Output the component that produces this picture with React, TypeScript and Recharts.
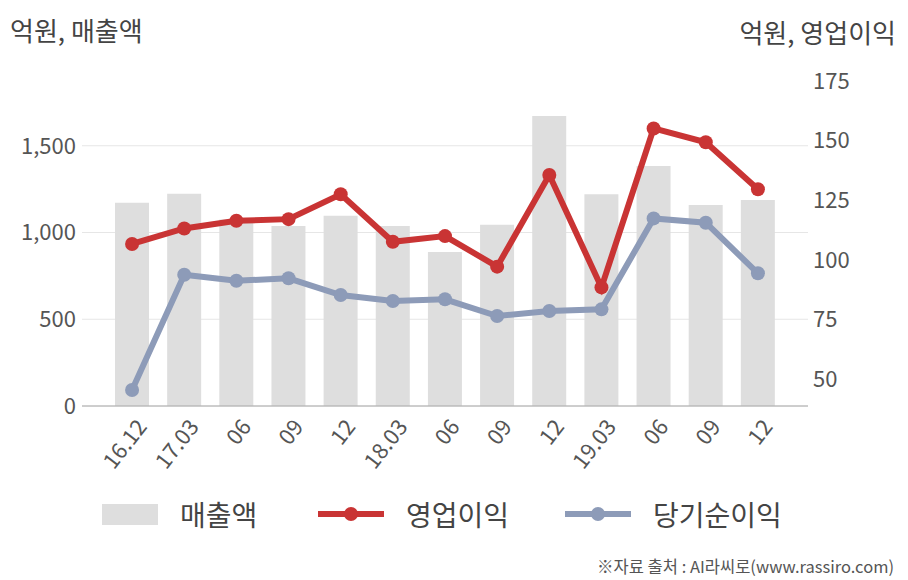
import React from 'react';
import { ComposedChart, Bar, Line, XAxis, YAxis, CartesianGrid } from 'recharts';

// 분기 라벨
const periods = ['16.12', '17.03', '06', '09', '12', '18.03', '06', '09', '12', '19.03', '06', '09', '12'];
// 매출액 (억원, 왼쪽 축)
const sales = [1172, 1223, 1075, 1038, 1097, 1038, 888, 1044, 1672, 1221, 1384, 1159, 1188];
// 영업이익 (억원, 오른쪽 축)
const operatingProfit = [106.6, 113.1, 116.3, 117.0, 127.4, 107.5, 109.9, 97.1, 135.5, 88.4, 155.0, 149.2, 129.5];
// 당기순이익 (억원, 오른쪽 축)
const netIncome = [45.4, 93.7, 91.2, 92.2, 85.2, 82.7, 83.4, 76.4, 78.5, 79.2, 117.3, 115.5, 94.3];

const leftTicks = [0, 500, 1000, 1500];
const rightTicks = [50, 75, 100, 125, 150, 175];

const FONT = '"Noto Sans CJK KR", "Noto Sans", sans-serif';
const TEXT = '#555555';
const RED = '#c93434';
const BLUE = '#8d9bb8';
const GREY = '#dedede';

const chartData = periods.map((p, i) => ({
  key: i,
  label: p,
  sales: sales[i],
  op: operatingProfit[i],
  net: netIncome[i],
}));

const formatNumber = (v: number) => v.toLocaleString('en-US');

function RotatedTick(props: any) {
  const { x, y, payload } = props;
  const ax = x + 8;
  const ay = y + 7;
  return (
    <text
      x={ax}
      y={ay}
      transform={`rotate(-52, ${ax}, ${ay})`}
      textAnchor="end"
      dominantBaseline="central"
      fill={TEXT}
      fontSize={22}
      fontFamily={FONT}
    >
      {periods[payload.value]}
    </text>
  );
}

function LegendItem({ kind, color, label }: { kind: 'bar' | 'line'; color: string; label: string }) {
  return (
    <div style={{ display: 'flex', alignItems: 'center' }}>
      {kind === 'bar' ? (
        <div style={{ width: 56, height: 21, background: color }} />
      ) : (
        <svg width={66} height={20}>
          <line x1={0} y1={10} x2={66} y2={10} stroke={color} strokeWidth={6} />
          <circle cx={33} cy={10} r={7} fill={color} />
        </svg>
      )}
      <span style={{ marginLeft: 22, fontSize: 28, color: '#444444', fontFamily: FONT }}>{label}</span>
    </div>
  );
}

export default function App() {
  return (
    <div
      style={{
        position: 'absolute',
        left: 0,
        top: 0,
        width: 908,
        height: 580,
        background: '#ffffff',
        fontFamily: FONT,
        overflow: 'hidden',
      }}
    >
      <div style={{ position: 'absolute', left: 10, top: 11, fontSize: 26, color: '#444444' }}>
        억원, 매출액
      </div>
      <div style={{ position: 'absolute', right: 12, top: 13, fontSize: 26, color: '#444444' }}>
        억원, 영업이익
      </div>

      <ComposedChart
        width={908}
        height={580}
        data={chartData}
        margin={{ top: 59, right: 0, bottom: 114, left: 0 }}
      >
        <CartesianGrid yAxisId="left" vertical={false} stroke="#e6e6e6" syncWithTicks />
        <XAxis
          dataKey="key"
          xAxisId={0}
          padding={{ left: 24, right: 24 }}
          height={60}
          axisLine={{ stroke: '#a8a8a8' }}
          tickLine={false}
          interval={0}
          tick={<RotatedTick />}
        />
        <YAxis
          yAxisId="left"
          orientation="left"
          width={82}
          domain={[0, 2000]}
          ticks={leftTicks}
          tickFormatter={formatNumber}
          axisLine={false}
          tickLine={false}
          tickSize={6}
          tickMargin={0}
          tick={{ fill: TEXT, fontSize: 22, fontFamily: FONT }}
        />
        <YAxis
          yAxisId="right"
          orientation="right"
          width={100}
          domain={[38.7, 184.1]}
          allowDataOverflow
          ticks={rightTicks}
          axisLine={false}
          tickLine={false}
          tickSize={5}
          tickMargin={0}
          tick={{ fill: TEXT, fontSize: 22, fontFamily: FONT, textAnchor: 'start' }}
        />
        <Bar yAxisId="left" dataKey="sales" fill={GREY} barSize={34} isAnimationActive={false} />
        <Line
          yAxisId="right"
          dataKey="op"
          stroke={RED}
          strokeWidth={6}
          dot={{ r: 7, fill: RED, stroke: RED, strokeWidth: 0 }}
          activeDot={false}
          isAnimationActive={false}
        />
        <Line
          yAxisId="right"
          dataKey="net"
          stroke={BLUE}
          strokeWidth={6}
          dot={{ r: 7, fill: BLUE, stroke: BLUE, strokeWidth: 0 }}
          activeDot={false}
          isAnimationActive={false}
        />
      </ComposedChart>

      <div style={{ position: 'absolute', left: 102, top: 494, display: 'flex', gap: 0 }}>
        <div style={{ width: 216 }}>
          <LegendItem kind="bar" color={GREY} label="매출액" />
        </div>
        <div style={{ width: 247 }}>
          <LegendItem kind="line" color={RED} label="영업이익" />
        </div>
        <div>
          <LegendItem kind="line" color={BLUE} label="당기순이익" />
        </div>
      </div>

      <div style={{ position: 'absolute', right: 14, top: 554, fontSize: 16.5, color: '#555555' }}>
        ※자료 출처 : AI라씨로(www.rassiro.com)
      </div>
    </div>
  );
}
